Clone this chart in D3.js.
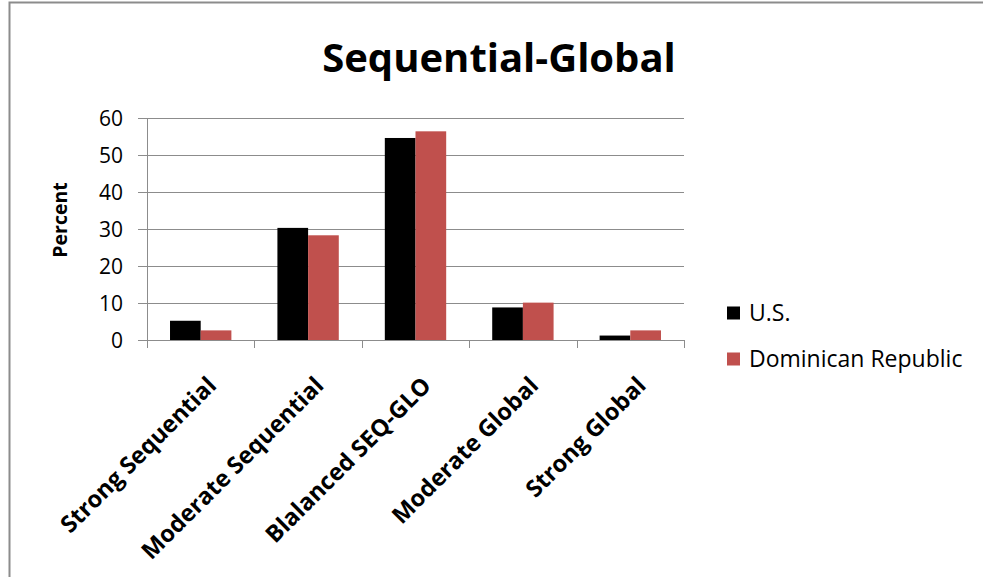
<!DOCTYPE html>
<html><head><meta charset="utf-8">
<script src="https://cdn.jsdelivr.net/npm/d3@7"></script>
<style>body{margin:0;background:#fff}svg{display:block}</style>
</head><body>
<script>
const categories = ["Strong Sequential","Moderate Sequential","Blalanced SEQ-GLO","Moderate Global","Strong Global"];
const seriesNames = ["U.S.","Dominican Republic"];
const usValues = [5.2, 30.3, 54.6, 8.8, 1.2];
const drValues = [2.6, 28.3, 56.4, 10.1, 2.6];
const yTicks = [0,10,20,30,40,50,60];
const colors = ["#000000","#C0504D"];

const W=983,H=577;
const svg=d3.select("body").append("svg").attr("width",W).attr("height",H);
const font="'Open Sans', sans-serif";
svg.append("rect").attr("x",9.5).attr("y",2.5).attr("width",W).attr("height",H).attr("fill","#fff").attr("stroke","#8c8c8c").attr("stroke-width",2);

const L=147,R=684,T=118,B=340;
const x=d3.scaleBand().domain(categories).range([L,R]).paddingInner(0).paddingOuter(0);
const y=d3.scaleLinear().domain([0,60]).range([B,T]);
const x1=d3.scaleBand().domain(seriesNames).range([0,x.bandwidth()]).paddingInner(0).paddingOuter(0.75);

// gridlines
const g=svg.append("g");
g.selectAll("line.grid").data(yTicks).join("line")
 .attr("x1",L-9).attr("x2",R).attr("y1",d=>Math.round(y(d))+0.5).attr("y2",d=>Math.round(y(d))+0.5)
 .attr("stroke","#8c8c8c").attr("stroke-width",1);
g.append("line").attr("x1",L+0.5).attr("x2",L+0.5).attr("y1",T).attr("y2",B).attr("stroke","#8c8c8c");
g.selectAll("text.yt").data(yTicks).join("text")
 .attr("x",L-24).attr("y",d=>y(d)).attr("dy","0.36em").attr("text-anchor","end")
 .attr("font-family",font).attr("font-size",21).attr("fill","#000").text(d=>d);

// bars
const data=categories.map((c,i)=>({c,vals:[usValues[i],drValues[i]]}));
const grp=svg.append("g").selectAll("g").data(data).join("g").attr("transform",d=>`translate(${x(d.c)},0)`);
grp.selectAll("rect").data(d=>d.vals.map((v,j)=>({v,s:seriesNames[j],j}))).join("rect")
 .attr("x",d=>x1(d.s)).attr("width",x1.bandwidth())
 .attr("y",d=>y(d.v)).attr("height",d=>B-y(d.v)).attr("fill",d=>colors[d.j]);

// x axis
const xa=svg.append("g");
xa.append("line").attr("x1",L).attr("x2",R).attr("y1",B+0.5).attr("y2",B+0.5).attr("stroke","#8c8c8c");
const edges=categories.map(c=>x(c)).concat([R]);
xa.selectAll("line.tk").data(edges).join("line")
 .attr("x1",d=>Math.round(d)+0.5).attr("x2",d=>Math.round(d)+0.5).attr("y1",B).attr("y2",B+8).attr("stroke","#8c8c8c");
xa.selectAll("text.xl").data(categories).join("text")
 .attr("transform",d=>`translate(${x(d)+x.bandwidth()/2+17},${B+47}) rotate(-45)`)
 .attr("text-anchor","end").attr("font-family",font).attr("font-weight","bold").attr("font-size",23.5).attr("fill","#000").text(d=>d);

// y label
svg.append("text").attr("transform",`translate(67,220) rotate(-90)`).attr("text-anchor","middle")
 .attr("font-family",font).attr("font-weight","bold").attr("font-size",19.5).text("Percent");

// title
svg.append("text").attr("x",499).attr("y",72).attr("text-anchor","middle")
 .attr("font-family",font).attr("font-weight","bold").attr("font-size",40).text("Sequential-Global");

// legend
const lg=svg.append("g").selectAll("g").data(seriesNames).join("g").attr("transform",(d,i)=>`translate(727,${313+i*46})`);
lg.append("rect").attr("x",0).attr("y",-6.5).attr("width",13).attr("height",13).attr("fill",(d,i)=>colors[i]);
lg.append("text").attr("x",22).attr("y",0).attr("dy","0.36em").attr("font-family",font).attr("font-size",23).text(d=>d);
</script>
</body></html>
